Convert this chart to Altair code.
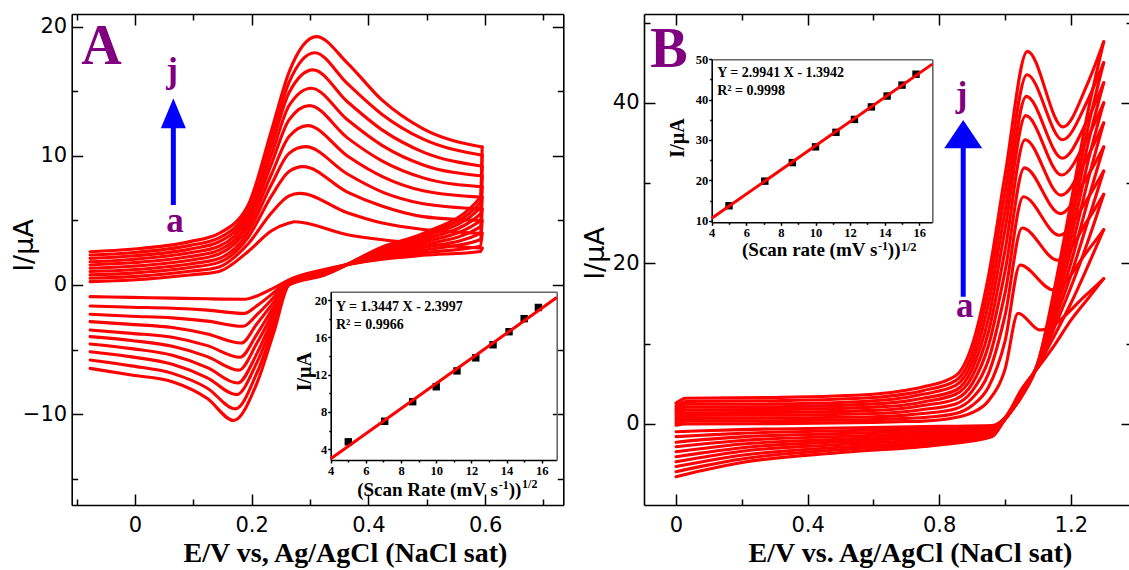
import altair as alt
import pandas as pd

W, H = 1129, 570
CURVES = list("abcdefghij")

# ---------------- Panel A : CV curves (E / V, I / uA) ----------------
A_FWD_E = [-0.077, -0.006, 0.094, 0.144, 0.194, 0.234, 0.264, 0.364, 0.424, 0.494, 0.595]
A_FWD_I = [
    [0.26, 0.52, 0.78, 1.04, 1.30, 1.55, 1.80, 2.06, 2.32, 2.58],
    [0.39, 0.65, 0.92, 1.18, 1.45, 1.72, 1.98, 2.24, 2.50, 2.77],
    [0.78, 1.06, 1.35, 1.63, 1.92, 2.20, 2.50, 2.78, 3.07, 3.36],
    [1.05, 1.40, 1.75, 2.05, 2.40, 2.70, 3.00, 3.35, 3.65, 4.00],
    [2.6, 3.2, 3.7, 4.1, 4.5, 4.9, 5.3, 5.6, 5.9, 6.2],
    [4.2, 5.6, 6.9, 7.8, 8.6, 9.4, 10.1, 10.8, 11.4, 12.0],
    [4.8, 6.9, 8.8, 10.2, 11.5, 12.8, 13.9, 14.9, 15.7, 16.5],
    [3.9, 5.6, 7.2, 8.6, 10.0, 11.4, 12.8, 14.2, 15.6, 17.2],
    [3.5, 4.8, 6.1, 7.2, 8.4, 9.6, 10.8, 12.0, 13.2, 14.3],
    [3.2, 4.3, 5.3, 6.3, 7.3, 8.3, 9.3, 10.3, 11.3, 12.1],
    [2.85, 4.0, 5.0, 5.9, 6.8, 7.6, 8.45, 9.2, 10.06, 10.7],
]
A_PA_E = [0.274, 0.282, 0.288, 0.292, 0.296, 0.299, 0.302, 0.305, 0.308, 0.311]
A_PA_I = [4.9, 7.1, 9.17, 10.72, 12.35, 13.9, 15.25, 16.67, 18.0, 19.25]
A_REV_E = [0.592, 0.494, 0.424, 0.324, 0.264, 0.239, 0.209, 0.124, 0.064, -0.006, -0.077]
A_REV_I = [
    [2.6, 3.0, 3.5, 4.0, 4.5, 5.0, 5.5, 6.0, 6.4, 6.8],
    [2.3, 2.5, 2.7, 2.9, 3.1, 3.3, 3.5, 3.7, 3.85, 4.0],
    [2.0, 2.1, 2.2, 2.35, 2.45, 2.55, 2.65, 2.75, 2.85, 2.95],
    [1.2, 1.15, 1.1, 1.05, 1.0, 0.95, 0.9, 0.85, 0.8, 0.75],
    [0.4, 0.35, 0.3, 0.25, 0.2, 0.15, 0.1, 0.05, 0.02, 0.0],
    [-0.2, -0.55, -0.9, -1.25, -1.6, -1.95, -2.3, -2.7, -3.1, -3.5],
    [-0.85, -1.6, -2.3, -3.0, -3.8, -4.5, -5.3, -6.0, -6.8, -7.6],
    [-1.07, -1.95, -2.8, -3.8, -4.7, -5.55, -6.4, -7.2, -8.0, -8.8],
    [-1.02, -1.8, -2.55, -3.3, -4.05, -4.75, -5.45, -6.15, -6.85, -7.5],
    [-0.96, -1.72, -2.42, -3.05, -3.75, -4.3, -4.93, -5.57, -6.27, -6.98],
    [-0.9, -1.63, -2.27, -2.84, -3.49, -4.0, -4.57, -5.17, -5.81, -6.46],
]
A_PC_E = [0.189, 0.187, 0.185, 0.182, 0.180, 0.178, 0.176, 0.174, 0.172, 0.169]
A_PC_I = [-1.1, -2.2, -3.2, -4.5, -5.6, -6.6, -7.6, -8.5, -9.6, -10.5]

# ---------------- Panel B : CV curves ----------------
B_FWD_E = [0.0, 0.03, 0.3, 0.6, 0.7, 0.75, 0.85, 0.9, 0.95, 1.0, 1.25, 1.3]
B_FWD_I = [
    [-0.15, 0.15, 0.45, 0.75, 1.05, 1.35, 1.65, 1.95, 2.25, 2.6],
    [0.0, 0.35, 0.7, 1.05, 1.4, 1.75, 2.1, 2.45, 2.8, 3.2],
    [0.05, 0.4, 0.75, 1.1, 1.45, 1.8, 2.15, 2.5, 2.9, 3.3],
    [0.2, 0.55, 0.9, 1.3, 1.7, 2.1, 2.5, 2.9, 3.3, 3.7],
    [0.3, 0.7, 1.1, 1.55, 2.0, 2.4, 2.85, 3.3, 3.75, 4.2],
    [0.35, 0.8, 1.3, 1.8, 2.3, 2.75, 3.2, 3.7, 4.15, 4.6],
    [0.8, 1.3, 1.9, 2.5, 3.1, 3.7, 4.2, 4.8, 5.4, 6.0],
    [1.4, 2.3, 3.2, 4.1, 5.0, 5.9, 6.8, 7.7, 8.7, 9.8],
    [2.9, 4.6, 6.3, 8.0, 9.8, 11.5, 13.2, 15.0, 16.8, 18.5],
    [6.8, 10.3, 13.5, 16.3, 19.0, 21.6, 24.2, 26.5, 28.8, 31.0],
    [16.2, 21.5, 25.3, 28.0, 30.8, 33.2, 35.6, 37.8, 40.2, 42.3],
    [18.1, 24.2, 28.6, 31.5, 34.5, 37.5, 40.0, 42.5, 45.0, 47.6],
]
B_PA_E = [1.040, 1.046, 1.052, 1.056, 1.059, 1.061, 1.063, 1.065, 1.067, 1.068]
B_PA_I = [13.8, 19.8, 24.4, 28.3, 31.9, 35.4, 38.4, 40.8, 43.5, 46.4]
B_VA_E = [1.106, 1.147, 1.160, 1.165, 1.168, 1.170, 1.172, 1.174, 1.175, 1.176]
B_VA_I = [11.7, 16.7, 20.4, 23.5, 26.2, 28.5, 31.0, 33.1, 35.4, 37.0]
B_REV_E = [1.25, 1.2, 1.15, 1.1, 1.05, 1.0, 0.96, 0.8, 0.5, 0.2, 0.08, 0.0]
B_REV_I = [
    [15.5, 19.5, 22.5, 25.0, 27.5, 30.0, 32.3, 34.5, 36.5, 38.5],
    [12.9, 15.0, 17.0, 18.5, 20.0, 21.5, 23.0, 24.5, 26.0, 27.5],
    [9.8, 11.0, 12.0, 12.8, 13.5, 14.3, 15.0, 15.7, 16.2, 16.8],
    [7.0, 7.2, 7.3, 7.4, 7.5, 7.5, 7.5, 7.6, 7.6, 7.6],
    [4.3, 4.0, 3.9, 3.8, 3.7, 3.6, 3.5, 3.5, 3.4, 3.4],
    [0.8, 0.7, 0.7, 0.6, 0.6, 0.6, 0.6, 0.6, 0.6, 0.6],
    [-0.2, -0.35, -0.5, -0.65, -0.8, -0.95, -1.1, -1.25, -1.45, -1.6],
    [-0.3, -0.55, -0.8, -1.05, -1.3, -1.55, -1.8, -2.1, -2.35, -2.6],
    [-0.5, -0.85, -1.2, -1.55, -1.9, -2.2, -2.55, -2.9, -3.2, -3.55],
    [-0.7, -1.15, -1.6, -2.05, -2.5, -2.95, -3.4, -3.9, -4.35, -4.8],
    [-0.85, -1.4, -1.95, -2.5, -3.05, -3.6, -4.15, -4.7, -5.25, -5.8],
    [-0.96, -1.58, -2.28, -2.83, -3.45, -4.07, -4.7, -5.3, -5.94, -6.56],
]

# ---------------- Insets: peak current vs sqrt(scan rate) ----------------
SQRT_RATE = [5.0, 7.07, 8.66, 10.0, 11.18, 12.25, 13.23, 14.14, 15.0, 15.81]
IA_PEAK = [4.8, 7.0, 9.1, 10.7, 12.4, 13.8, 15.2, 16.6, 18.0, 19.2]
IB_PEAK = [13.7, 19.8, 24.4, 28.3, 31.9, 35.1, 38.2, 40.9, 43.6, 46.3]
IA_FIT_X = [4.0, 16.85]
IA_FIT_Y = [2.98, 20.26]
IB_FIT_X = [4.0, 16.75]
IB_FIT_Y = [10.6, 48.8]

# ---------------- build tables ----------------
def cv_table(fwd_e, fwd_i, extra_f, rev_e, rev_i, extra_r):
    rows = []
    for k, name in enumerate(CURVES):
        for e, vals in zip(fwd_e, fwd_i):
            rows.append({"E": e, "I": vals[k], "seg": name + "f"})
        for ee, ii in extra_f:
            rows.append({"E": ee[k], "I": ii[k], "seg": name + "f"})
        rows.append({"E": fwd_e[-1], "I": fwd_i[-1][k], "seg": name + "r"})
        for e, vals in zip(rev_e, rev_i):
            rows.append({"E": e, "I": vals[k], "seg": name + "r"})
        for ee, ii in extra_r:
            rows.append({"E": ee[k], "I": ii[k], "seg": name + "r"})
    return pd.DataFrame(rows)

dfA = cv_table(A_FWD_E, A_FWD_I, [(A_PA_E, A_PA_I)], A_REV_E, A_REV_I, [(A_PC_E, A_PC_I)])
dfB = cv_table(B_FWD_E, B_FWD_I, [(B_PA_E, B_PA_I), (B_VA_E, B_VA_I)], B_REV_E, B_REV_I, [])
dfIA = pd.DataFrame({"x": SQRT_RATE, "y": IA_PEAK})
dfIB = pd.DataFrame({"x": SQRT_RATE, "y": IB_PEAK})
dfIAf = pd.DataFrame({"x": IA_FIT_X, "y": IA_FIT_Y})
dfIBf = pd.DataFrame({"x": IB_FIT_X, "y": IB_FIT_Y})

# ---------------- scales (pixel ranges inside one 1129x570 canvas) ----------------
def sc(domain, rng):
    return alt.Scale(domain=domain, range=rng, nice=False, zero=False)

AXs, AYs = sc([-0.1085, 0.734], [71.7, 563.3]), sc([-17.05, 21.0], [505, 14])
BXs, BYs = sc([-0.0973, 1.386], [644, 1132]), sc([-10.09, 51.06], [505, 14])
IAXs, IAYs = sc([4, 16.85], [330.7, 556.7]), sc([2.85, 20.89], [460, 291.7])
IBXs, IBYs = sc([4, 16.75], [711.7, 932.3]), sc([9.6, 50.0], [222.3, 59.3])

SANS = "DejaVu Sans"
SERIF = "Liberation Serif"
RED = "#ff0000"
PURPLE = "#800080"
BLUE = "#0000ff"


def ax(orient, offset, values, tick=0, labels=False, domain=False, dcolor="black", **kw):
    d = dict(orient=orient, offset=offset, values=values, labels=labels, grid=False,
             domain=domain, domainColor=dcolor, domainWidth=1.6, labelFlush=False,
             labelOverlap=False)
    if tick > 0:
        d.update(ticks=True, tickSize=tick, tickColor="black", tickWidth=1.5)
    else:
        d.update(ticks=False)
    if "title" not in kw:
        d["title"] = None
    d.update(kw)
    return alt.Axis(**d)


def axes_layer(xs, ys, xaxis, yaxis):
    df = pd.DataFrame({"x": xs.domain, "y": ys.domain})
    return alt.Chart(df).mark_point(opacity=0).encode(
        x=alt.X("x:Q", scale=xs, axis=xaxis),
        y=alt.Y("y:Q", scale=ys, axis=yaxis),
    )


def text_layer(xs, ys, x, y, text, **mk):
    df = pd.DataFrame({"x": [x], "y": [y], "t": [text]})
    return alt.Chart(df).mark_text(**mk).encode(
        x=alt.X("x:Q", scale=xs, axis=None),
        y=alt.Y("y:Q", scale=ys, axis=None),
        text="t:N",
    )


def main_axes(xs, ys, left, right, top, bottom, xmaj, xmin, ymaj, ymin, xtitle, xtitle_x, ytitle_xy, xfmt):
    lab = dict(labelFont=SANS, labelFontSize=21, labelColor="black")
    xlab = ax("bottom", bottom - H, xmaj, labels=True, domain=True, labelPadding=9, format=xfmt,
              title=xtitle, titleFont=SERIF, titleFontSize=28, titleFontWeight="bold",
              titleColor="black", titleX=xtitle_x, titleY=56, titleAlign="center",
              titleBaseline="alphabetic", **lab)
    ylab = ax("left", -left, ymaj, labels=True, domain=True, labelPadding=5,
              title="I/\u00b5A", titleFont=SANS, titleFontSize=27, titleFontWeight="normal",
              titleColor="black", titleAngle=270, titleX=ytitle_xy[0] - left, titleY=ytitle_xy[1],
              titleAlign="center", titleBaseline="middle", **lab)
    return [
        axes_layer(xs, ys, xlab, ylab),
        axes_layer(xs, ys, ax("top", -bottom, xmaj, tick=11), ax("right", left - W, ymaj, tick=11)),
        axes_layer(xs, ys, ax("top", -bottom, xmin, tick=6), ax("right", left - W, ymin, tick=6)),
        axes_layer(xs, ys, ax("bottom", top - H, xmaj, tick=11, domain=True),
                   ax("left", -right, ymaj, tick=11, domain=True)),
        axes_layer(xs, ys, ax("bottom", top - H, xmin, tick=6), ax("left", -right, ymin, tick=6)),
    ]


def inset_axes(xs, ys, left, right, top, bottom, xmaj, xmin, ymaj, ymin):
    lab = dict(labelFont=SERIF, labelFontSize=12.5, labelFontWeight="bold", labelColor="black",
               labelPadding=1)
    return [
        axes_layer(xs, ys,
                   ax("bottom", bottom - H, xmaj, tick=3, labels=True, domain=True, **lab),
                   ax("left", -left, ymaj, tick=3, labels=True, domain=True, **lab)),
        axes_layer(xs, ys, ax("bottom", bottom - H, xmin, tick=2), ax("left", -left, ymin, tick=2)),
        axes_layer(xs, ys, ax("top", -top, xmaj, domain=True, dcolor="#666666"),
                   ax("right", right - W, ymaj, domain=True, dcolor="#666666")),
    ]


def cv_layer(df, xs, ys):
    return alt.Chart(df).mark_line(interpolate="monotone", color=RED, strokeWidth=3.1,
                                   strokeCap="round", strokeJoin="round").encode(
        x=alt.X("E:Q", scale=xs, axis=None),
        y=alt.Y("I:Q", scale=ys, axis=None),
        detail="seg:N",
        order="E:Q",
    )


def arrow(xs, ys, x, y0, y1, yhead, path, size):
    shaft = alt.Chart(pd.DataFrame({"x": [x], "y": [y0], "y2": [y1]})).mark_rule(
        color=BLUE, strokeWidth=5).encode(
        x=alt.X("x:Q", scale=xs, axis=None), y=alt.Y("y:Q", scale=ys, axis=None), y2="y2:Q")
    head = alt.Chart(pd.DataFrame({"x": [x], "y": [yhead]})).mark_point(
        shape=path, size=size, filled=True, color=BLUE, opacity=1, strokeWidth=0).encode(
        x=alt.X("x:Q", scale=xs, axis=None), y=alt.Y("y:Q", scale=ys, axis=None))
    return [shaft, head]


def scatter_fit(df, dff, xs, ys):
    pts = alt.Chart(df).mark_square(size=55, color="black", opacity=1).encode(
        x=alt.X("x:Q", scale=xs, axis=None), y=alt.Y("y:Q", scale=ys, axis=None))
    line = alt.Chart(dff).mark_line(color=RED, strokeWidth=3).encode(
        x=alt.X("x:Q", scale=xs, axis=None), y=alt.Y("y:Q", scale=ys, axis=None))
    return [pts, line]


big = dict(font=SERIF, fontWeight="bold", fontSize=56, color=PURPLE, align="center", baseline="alphabetic")
lbl = dict(font=SERIF, fontWeight="bold", fontSize=35, color=PURPLE, align="center", baseline="alphabetic")
eq = dict(font=SERIF, fontWeight="bold", fontSize=14, color="black", align="left", baseline="alphabetic")
tt = dict(font=SERIF, fontWeight="bold", fontSize=19, color="black", align="left", baseline="alphabetic")
ttr = dict(font=SERIF, fontWeight="bold", fontSize=19, color="black", align="right", baseline="alphabetic")
sup = dict(font=SERIF, fontWeight="bold", fontSize=12, color="black", align="left", baseline="alphabetic")
yt = dict(font=SERIF, fontWeight="bold", fontSize=20, color="black", align="center", baseline="middle", angle=270)

layers = []
# panel A
layers += main_axes(AXs, AYs, 71.7, 563.3, 14, 505, [0, 0.2, 0.4, 0.6], [-0.1, 0.1, 0.3, 0.5, 0.7],
                    [-10, 0, 10, 20], [-15, -5, 5, 15], "E/V vs, Ag/AgCl (NaCl sat)", 345, (25, 245), ".1~f")
layers.append(cv_layer(dfA, AXs, AYs))
layers.append(text_layer(AXs, AYs, -0.0576, 17.11, "A", **big))
layers.append(text_layer(AXs, AYs, 0.0634, 15.75, "j", **lbl))
layers.append(text_layer(AXs, AYs, 0.0686, 4.13, "a", **lbl))
layers += arrow(AXs, AYs, 0.0657, 6.2, 12.4, 13.31, "M0,-1.2L1,1.2L-1,1.2Z", 625)
# panel B
layers += main_axes(BXs, BYs, 644, 1132, 14, 505, [0, 0.4, 0.8, 1.2], [0.2, 0.6, 1.0],
                    [0, 20, 40], [10, 30, 50], "E/V vs. Ag/AgCl (NaCl sat)", 910, (595, 253), ".1~f")
layers.append(cv_layer(dfB, BXs, BYs))
layers.append(text_layer(BXs, BYs, -0.0213, 44.5, "B", **big))
layers.append(text_layer(BXs, BYs, 0.868, 39.65, "j", **lbl))
layers.append(text_layer(BXs, BYs, 0.878, 13.36, "a", **lbl))
layers += arrow(BXs, BYs, 0.873, 15.85, 34.6, 36.1, "M0,-0.745L1,0.745L-1,0.745Z", 1444)
# inset A
layers += inset_axes(IAXs, IAYs, 330.7, 556.7, 291.7, 460, [4, 6, 8, 10, 12, 14, 16],
                     [5, 7, 9, 11, 13, 15], [4, 8, 12, 16, 20], [6, 10, 14, 18])
layers += scatter_fit(dfIA, dfIAf, IAXs, IAYs)
layers.append(text_layer(IAXs, IAYs, 4.3, 18.82, "Y = 1.3447 X - 2.3997", **eq))
layers.append(text_layer(IAXs, IAYs, 4.3, 16.89, "R\u00b2 = 0.9966", **eq))
layers.append(text_layer(IAXs, IAYs, 13.5, -1.0, "(Scan Rate (mV s", **ttr))
layers.append(text_layer(IAXs, IAYs, 13.55, -0.31, "-1", **sup))
layers.append(text_layer(IAXs, IAYs, 14.12, -1.0, "))", **tt))
layers.append(text_layer(IAXs, IAYs, 14.88, -0.15, "1/2", **sup))
layers.append(text_layer(IAXs, IAYs, 2.54, 12.32, "I/\u00b5A", **yt))
# inset B
layers += inset_axes(IBXs, IBYs, 711.7, 932.3, 59.3, 222.3, [4, 6, 8, 10, 12, 14, 16],
                     [5, 7, 9, 11, 13, 15], [10, 20, 30, 40, 50], [15, 25, 35, 45])
layers += scatter_fit(dfIB, dfIBf, IBXs, IBYs)
layers.append(text_layer(IBXs, IBYs, 4.32, 45.69, "Y = 2.9941 X - 1.3942", **eq))
layers.append(text_layer(IBXs, IBYs, 4.32, 41.15, "R\u00b2 = 0.9998", **eq))
layers.append(text_layer(IBXs, IBYs, 13.57, 1.2, "(Scan rate (mV s", **ttr))
layers.append(text_layer(IBXs, IBYs, 13.61, 2.7, "-1", **sup))
layers.append(text_layer(IBXs, IBYs, 14.18, 1.2, "))", **tt))
layers.append(text_layer(IBXs, IBYs, 14.95, 2.4, "1/2", **sup))
layers.append(text_layer(IBXs, IBYs, 2.05, 30.5, "I/\u00b5A", **yt))

chart = alt.layer(*layers).resolve_scale(x="independent", y="independent").properties(
    width=W, height=H, padding=0, background="white",
    autosize=alt.AutoSizeParams(type="none"),
).configure_view(stroke=None)

chart.save("out.html", embed_options={"renderer": "svg", "actions": False})
